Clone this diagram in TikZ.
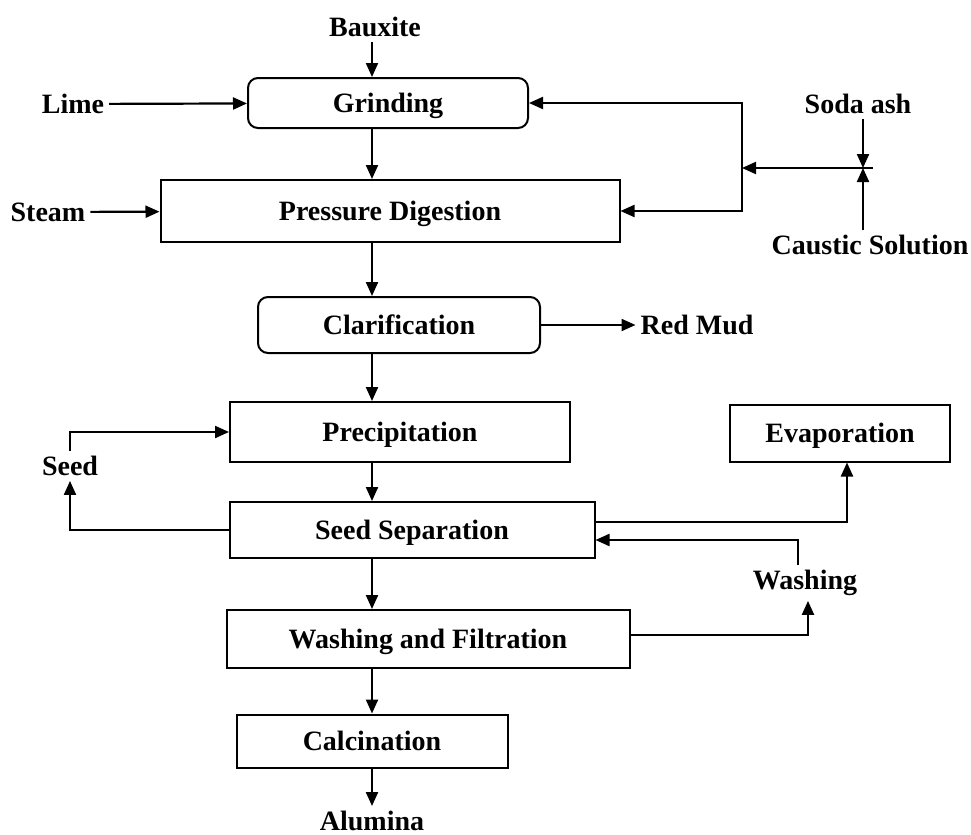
\documentclass[tikz,border=0pt]{standalone}
\usepackage{fontspec}
\setmainfont{Liberation Serif}
\usetikzlibrary{positioning,arrows.meta}

\begin{document}
\begin{tikzpicture}[
    x=0.5pt, y=-0.5pt,
    >={Triangle[length=7pt,width=6pt]},
    line width=1.1pt,
    every node/.style={font=\fontsize{14}{16}\selectfont\bfseries, inner sep=2pt},
    proc/.style={draw, line width=1pt, inner sep=0pt, text depth=0pt},
    rproc/.style={proc, rounded corners=5pt},
]
\useasboundingbox (0,0) rectangle (971,835);

% main process boxes
\node[rproc, minimum width=140pt, minimum height=25pt] (grind) at (388,103) {Grinding};
\node[proc, minimum width=229.5pt, minimum height=31pt] (digest) at (390,211) {Pressure Digestion};
\node[rproc, minimum width=141pt, minimum height=28pt] (clarif) at (399,325) {Clarification};
\node[proc, minimum width=170pt, minimum height=30pt] (precip) at (400,432) {Precipitation};
\node[proc, minimum width=110pt, minimum height=28.5pt] (evap) at (840,433) {Evaporation};
\node[proc, minimum width=182.5pt, minimum height=28pt] (seedsep) at (412,530) {Seed Separation};
\node[proc, minimum width=201.5pt, minimum height=29pt] (washfilt) at (428,639) {Washing and Filtration};
\node[proc, minimum width=135.5pt, minimum height=26.5pt] (calc) at (372,741) {Calcination};

% feeds and products
\node (bauxite) at (375,27) {Bauxite};
\node (lime) at (73,104) {Lime};
\node (steam) at (48,212) {Steam};
\node (soda) at (858,104) {Soda ash};
\node (caustic) at (870,245) {Caustic Solution};
\node (redmud) at (697,325) {Red Mud};
\node (seed) at (70,466) {Seed};
\node (washing) at (805,583) {Washing};
\node (alumina) at (372,821) {Alumina};

\coordinate (axis) at (372,0);
\coordinate (jn) at (863,168);
\coordinate (split) at (742,168);

% main line
\draw[->] (bauxite.south -| axis) -- (grind.north -| axis);
\draw[->] (grind.south -| axis) -- (digest.north -| axis);
\draw[->] (digest.south -| axis) -- (clarif.north -| axis);
\draw[->] (clarif.south -| axis) -- (precip.north -| axis);
\draw[->] (precip.south -| axis) -- (seedsep.north -| axis);
\draw[->] (seedsep.south -| axis) -- (washfilt.north -| axis);
\draw[->] (washfilt.south -| axis) -- (calc.north -| axis);
\draw[->] (calc.south -| axis) -- (alumina.north -| axis);

% side streams
\draw[->] (lime) -- (grind);
\draw[->] (steam) -- (digest);
\draw[->] (clarif) -- (redmud);
\draw[->] (soda.south -| jn) -- (jn);
\draw[->] (caustic.north -| jn) -- (jn);
\draw[->] ([xshift=5pt]jn) -- (split);
\draw[->] (split) |- (grind.east);
\draw[->] (split) |- (digest.east);

% seed and liquor recycle
\draw[->] (seed.north) |- (precip.west);
\draw[->] (seedsep.west) -| (seed.south);
\draw[->] ([yshift=4pt]seedsep.east) -| ([xshift=3.5pt]evap.south);
\draw[->] ([xshift=-3.5pt]washing.north) |- ([yshift=-5pt]seedsep.east);
\draw[->] ([yshift=2pt]washfilt.east) -| ([xshift=1.5pt]washing.south);
\end{tikzpicture}
\end{document}
